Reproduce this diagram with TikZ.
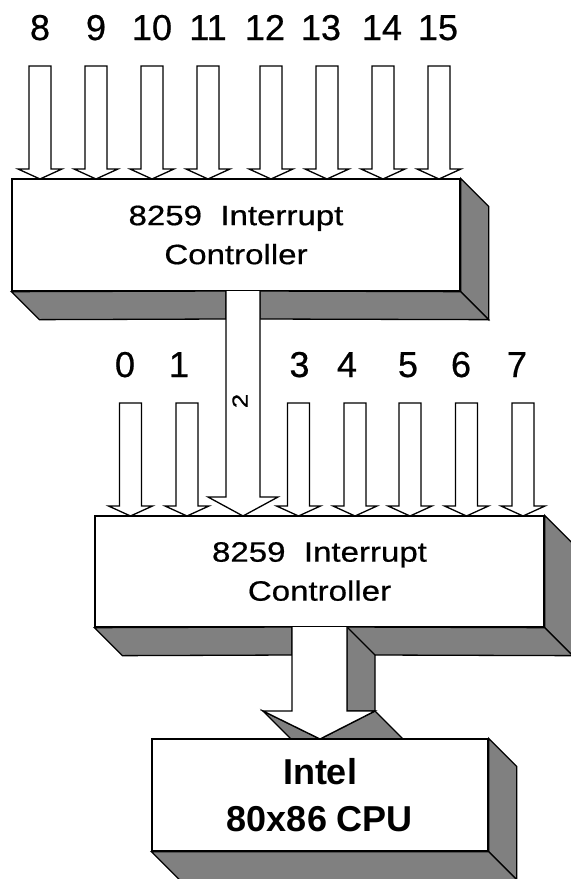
\documentclass[tikz,border=0pt]{standalone}
\usepackage{fontspec}
\setmainfont{Liberation Sans}
\newfontfamily\widefont[FakeStretch=1.18,FakeBold=0.6]{Liberation Sans}
\newfontfamily\numfont[FakeBold=0.6]{Liberation Sans}
\usetikzlibrary{positioning,calc}
\definecolor{shade}{gray}{0.5}

% block arrow: centre x, top y, tip y
\newcommand{\irqarrow}[3]{%
  \filldraw[fill=white] (#1-11,#2) -- (#1+11,#2) -- (#1+11,#3-10) -- (#1+22,#3-10)
    -- (#1,#3) -- (#1-22,#3-10) -- (#1-11,#3-10) -- cycle;}

\begin{document}
\begin{tikzpicture}[
    x=0.5pt, y=-0.5pt,
    line width=0.65pt, line join=miter,
    chip/.style={draw, fill=white, inner sep=0pt, align=center},
    side/.style={draw, fill=shade},
    irqlabel/.style={font=\numfont\fontsize{18}{20}\selectfont, anchor=base},
    chiplabel/.style={font=\widefont\fontsize{14}{19.5}\selectfont},
  ]
  \def\d{28}
  \useasboundingbox (0,0) rectangle (570,879);

  % ========= SLAVE 8259 =========
  \foreach \x/\lx/\t in {40/40/8, 96/96/9, 152/152/10, 208/208/11,
                          271/265/12, 327/321/13, 383/382/14, 439/438/15} {
    \node[irqlabel] (irq\t) at (\lx,40) {\t};
    \irqarrow{\x}{66}{179}
  }

  \node[chip, chiplabel, minimum width=448*0.5pt, minimum height=112*0.5pt]
    (slave) at (236,235) {8259\ \ Interrupt\\Controller};
  \filldraw[side] (slave.north east) -- ++(\d,\d) -- ($(slave.south east)+(\d,\d)$)
    -- (slave.south east) -- cycle;
  \filldraw[side] (slave.south west) -- ++(\d,\d) -- (226,319) -- (226,291) -- cycle;
  \filldraw[side] (260,291) -- (260,319) -- ($(slave.south east)+(\d,\d)$)
    -- (slave.south east) -- cycle;

  % cascade into IRQ 2
  \filldraw[fill=white] (226,291) -- (226,497) -- (208,497) -- (243,516)
    -- (278,497) -- (260,497) -- (260,291);
  \node[font=\widefont\fontsize{11}{12}\selectfont, rotate=90] (cas) at (240,401) {2};

  % ========= MASTER 8259 =========
  \foreach \x/\lx/\t in {130.5/125/0, 187/179/1, 298.5/299.5/3, 355/347/4,
                          410/408/5, 466.5/461/6, 523/517/7} {
    \node[irqlabel] (irq\t) at (\lx,377) {\t};
    \irqarrow{\x}{403}{516}
  }

  \node[chip, chiplabel, minimum width=449*0.5pt, minimum height=111*0.5pt]
    (master) at (319.5,571.5) {8259\ \ Interrupt\\Controller};
  \filldraw[side] (master.north east) -- ++(\d,\d) -- ($(master.south east)+(\d,\d)$)
    -- (master.south east) -- cycle;
  \filldraw[side] (master.south west) -- ++(\d,\d) -- (292,655) -- (292,627) -- cycle;
  \filldraw[side] (347,627) -- (master.south east) -- ++(\d,\d) -- (375,655)
    -- (375,711) -- (347,711) -- cycle;
  \draw (347,627) -- (375,655);

  % output to CPU
  \filldraw[side] (263,711) -- (291,739) -- (320,739) -- cycle;
  \filldraw[side] (375,711) -- (403,739) -- (320,739) -- cycle;
  \filldraw[fill=white] (292,627) -- (292,711) -- (263,711) -- (320,739)
    -- (375,711) -- (347,711) -- (347,627);

  % ========= CPU =========
  \node[chip, font=\bfseries\fontsize{18}{23.5}\selectfont,
        minimum width=336*0.5pt, minimum height=112*0.5pt]
    (cpu) at (320,795) {Intel\\80x86 CPU};
  \filldraw[side] (cpu.north east) -- ++(\d,\d) -- ($(cpu.south east)+(\d,\d)$)
    -- (cpu.south east) -- cycle;
  \filldraw[side] (cpu.south west) -- ++(\d,\d) -- ($(cpu.south east)+(\d,\d)$)
    -- (cpu.south east) -- cycle;
\end{tikzpicture}
\end{document}
